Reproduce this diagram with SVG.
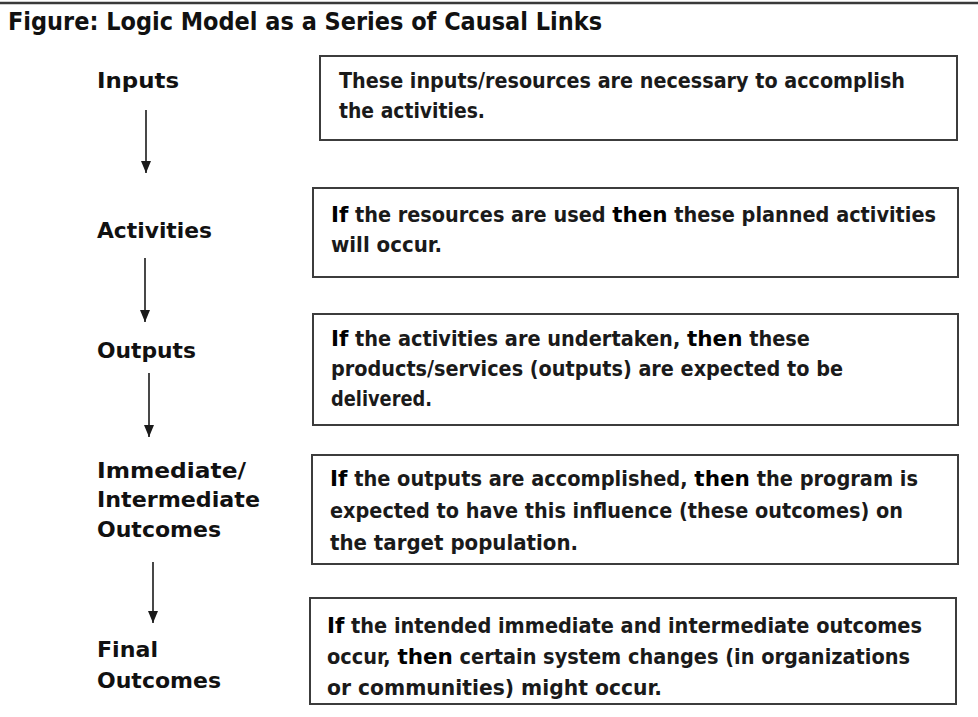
<svg xmlns="http://www.w3.org/2000/svg" width="978" height="717" viewBox="0 0 978 717">
  <defs>
    <marker id="arrowhead" viewBox="0 0 12 10" refX="12" refY="5" markerWidth="12" markerHeight="10" markerUnits="userSpaceOnUse" orient="auto">
      <path d="M0,0 L12,5 L0,10 Z" fill="#1a1a1a"/>
    </marker>
    <style>
      .bg { fill: #ffffff; }
      .rule { stroke: #3a3a3a; stroke-width: 2.5; }
      .title { font-family: "DejaVu Sans Condensed", "DejaVu Sans", sans-serif; font-stretch: condensed; font-weight: bold; font-size: 24px; fill: #111111; }
      .label { font-family: "DejaVu Sans", "Liberation Sans", sans-serif; font-weight: bold; font-size: 22px; fill: #111111; }
      .box { fill: #ffffff; stroke: #3c3c3c; stroke-width: 2; }
      .body { font-family: "DejaVu Sans Condensed", "DejaVu Sans", sans-serif; font-stretch: condensed; font-weight: bold; font-size: 21.5px; fill: #1a1a1a; }
      .key { font-family: "DejaVu Sans", "Liberation Sans", sans-serif; font-stretch: normal; font-weight: bold; fill: #000000; }
      .link { stroke: #1a1a1a; stroke-width: 1.6; fill: none; marker-end: url(#arrowhead); }
    </style>
  </defs>

  <rect class="bg" x="0" y="0" width="978" height="717"/>
  <line class="rule" x1="0" y1="3" x2="978" y2="3"/>
  <text class="title" x="8" y="30" textLength="594" lengthAdjust="spacingAndGlyphs">Figure:  Logic Model as a Series of Causal Links</text>

  <!-- stage labels on the left -->
  <g id="label-inputs">
    <text class="label" x="97" y="88" textLength="82" lengthAdjust="spacingAndGlyphs">Inputs</text>
  </g>
  <g id="label-activities">
    <text class="label" x="97" y="238" textLength="115" lengthAdjust="spacingAndGlyphs">Activities</text>
  </g>
  <g id="label-outputs">
    <text class="label" x="97" y="358" textLength="99" lengthAdjust="spacingAndGlyphs">Outputs</text>
  </g>
  <g id="label-intermediate">
    <text class="label" x="97" y="478" textLength="149" lengthAdjust="spacingAndGlyphs">Immediate/</text>
    <text class="label" x="97" y="507" textLength="163" lengthAdjust="spacingAndGlyphs">Intermediate</text>
    <text class="label" x="97" y="537" textLength="124" lengthAdjust="spacingAndGlyphs">Outcomes</text>
  </g>
  <g id="label-final">
    <text class="label" x="97" y="657" textLength="61" lengthAdjust="spacingAndGlyphs">Final</text>
    <text class="label" x="97" y="688" textLength="124" lengthAdjust="spacingAndGlyphs">Outcomes</text>
  </g>

  <!-- downward links between stages -->
  <g id="connectors">
    <line class="link" x1="146" y1="110" x2="146" y2="173"/>
    <line class="link" x1="145" y1="258" x2="145" y2="322"/>
    <line class="link" x1="149" y1="373" x2="149" y2="437"/>
    <line class="link" x1="153" y1="562" x2="153" y2="623"/>
  </g>

  <!-- explanation boxes -->
  <g id="box-inputs">
    <rect class="box" x="320" y="56" width="637" height="84"/>
    <text class="body" x="339" y="88" textLength="566" lengthAdjust="spacingAndGlyphs">These inputs/resources are necessary to accomplish</text>
    <text class="body" x="339" y="118" textLength="146" lengthAdjust="spacingAndGlyphs">the activities.</text>
  </g>
  <g id="box-activities">
    <rect class="box" x="313" y="188" width="645" height="89"/>
    <text class="body" x="331" y="222" textLength="605" lengthAdjust="spacingAndGlyphs"><tspan class="key">If</tspan> the resources are used <tspan class="key">then</tspan> these planned activities</text>
    <text class="body" x="331" y="252" textLength="111" lengthAdjust="spacingAndGlyphs">will occur.</text>
  </g>
  <g id="box-outputs">
    <rect class="box" x="313" y="314" width="645" height="111"/>
    <text class="body" x="331" y="346" textLength="479" lengthAdjust="spacingAndGlyphs"><tspan class="key">If</tspan> the activities are undertaken, <tspan class="key">then</tspan> these</text>
    <text class="body" x="331" y="376" textLength="512" lengthAdjust="spacingAndGlyphs">products/services (outputs) are expected to be</text>
    <text class="body" x="331" y="406" textLength="101" lengthAdjust="spacingAndGlyphs">delivered.</text>
  </g>
  <g id="box-intermediate">
    <rect class="box" x="312" y="455" width="646" height="109"/>
    <text class="body" x="330" y="486" textLength="588" lengthAdjust="spacingAndGlyphs"><tspan class="key">If</tspan> the outputs are accomplished, <tspan class="key">then</tspan> the program is</text>
    <text class="body" x="330" y="518" textLength="573" lengthAdjust="spacingAndGlyphs">expected to have this influence (these outcomes) on</text>
    <text class="body" x="330" y="550" textLength="248" lengthAdjust="spacingAndGlyphs">the target population.</text>
  </g>
  <g id="box-final">
    <rect class="box" x="310" y="598" width="646" height="106"/>
    <text class="body" x="327" y="633" textLength="595" lengthAdjust="spacingAndGlyphs"><tspan class="key">If</tspan> the intended immediate and intermediate outcomes</text>
    <text class="body" x="327" y="664" textLength="583" lengthAdjust="spacingAndGlyphs">occur, <tspan class="key">then</tspan> certain system changes (in organizations</text>
    <text class="body" x="327" y="695" textLength="335" lengthAdjust="spacingAndGlyphs">or communities) might occur.</text>
  </g>
</svg>
